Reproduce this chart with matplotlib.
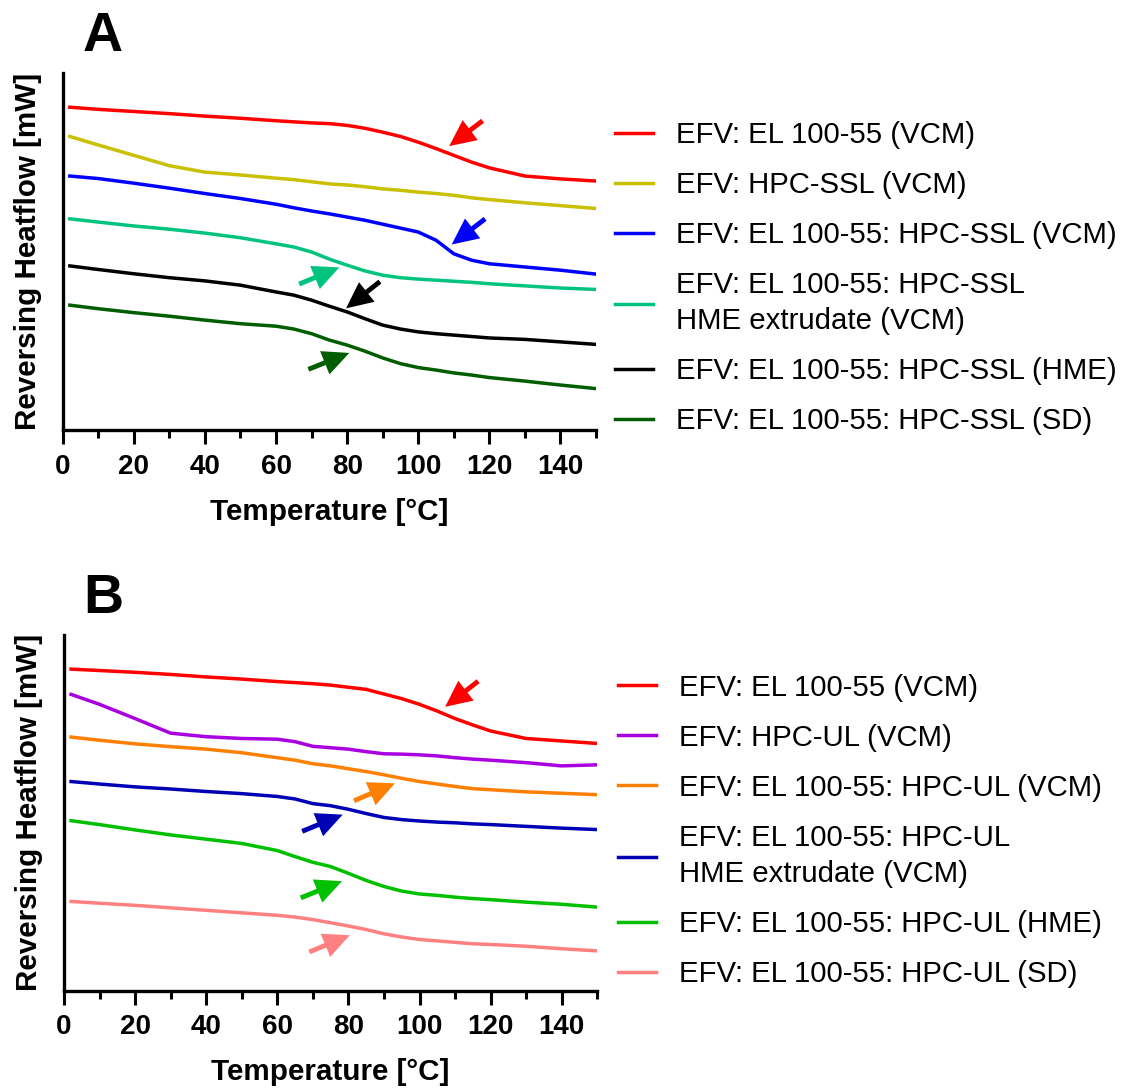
"""
Reversing heat flow (MDSC) traces for EFV formulations.
Panel A: HPC-SSL blends, panel B: HPC-UL blends. Tg steps marked with arrows.
"""

import matplotlib
matplotlib.use("Agg")
import matplotlib.pyplot as plt
from matplotlib.ticker import MultipleLocator

plt.rcParams["font.family"] = ["Liberation Sans", "DejaVu Sans"]

# ── Data (heat flow in arbitrary offset units, traces stacked) ───────────────

TEMP = [2, 10, 20, 30, 40, 50, 60, 65, 70, 75, 80, 85, 90, 95, 100, 105,
        110, 115, 120, 130, 140, 150]

# Panel A
A_LABELS = [
    "EFV: EL 100-55 (VCM)",
    "EFV: HPC-SSL (VCM)",
    "EFV: EL 100-55: HPC-SSL (VCM)",
    "EFV: EL 100-55: HPC-SSL\nHME extrudate (VCM)",
    "EFV: EL 100-55: HPC-SSL (HME)",
    "EFV: EL 100-55: HPC-SSL (SD)",
]
A_EL_VCM = [90.5, 89.9, 89.3, 88.7, 88.0, 87.4, 86.7, 86.4, 86.1, 85.9, 85.4,
            84.6, 83.5, 82.3, 80.7, 78.9, 77.0, 75.1, 73.5, 71.2, 70.4, 69.8]
A_SSL_VCM = [82.3, 79.9, 77.0, 74.1, 72.3, 71.5, 70.6, 70.2, 69.6, 69.0, 68.7,
             68.2, 67.6, 67.2, 66.7, 66.3, 65.8, 65.1, 64.6, 63.7, 62.9, 62.1]
A_BLEND_VCM = [71.2, 70.5, 69.2, 67.8, 66.3, 64.9, 63.3, 62.3, 61.4, 60.6, 59.7,
               58.8, 57.7, 56.6, 55.5, 53.2, 49.4, 47.6, 46.6, 45.7, 44.8, 43.7]
A_EXTR_VCM = [59.2, 58.3, 57.2, 56.3, 55.2, 53.9, 52.2, 51.3, 49.9, 47.9, 46.2,
              44.6, 43.4, 42.7, 42.3, 42.0, 41.7, 41.4, 41.0, 40.4, 39.8, 39.4]
A_HME = [46.0, 45.0, 43.8, 42.7, 41.8, 40.6, 38.7, 37.8, 36.4, 34.7, 33.1,
         31.2, 29.4, 28.3, 27.5, 27.0, 26.6, 26.2, 25.8, 25.4, 24.7, 24.0]
A_SD = [35.0, 34.0, 32.9, 31.9, 30.8, 29.8, 29.1, 28.3, 27.0, 25.2, 23.8,
        22.1, 20.2, 18.6, 17.5, 16.8, 16.0, 15.4, 14.7, 13.7, 12.6, 11.6]

# arrow (tail T, tail y, tip T, tip y) per trace, pointing at the Tg step
A_ARROWS = [
    (118.1, 86.7, 108.7, 79.6),
    None,
    (118.8, 59.2, 109.4, 52.0),
    (66.5, 40.9, 77.8, 45.6),
    (89.2, 41.6, 79.7, 34.1),
    (69.1, 17.0, 80.6, 21.6),
]

# Panel B
B_LABELS = [
    "EFV: EL 100-55 (VCM)",
    "EFV: HPC-UL (VCM)",
    "EFV: EL 100-55: HPC-UL (VCM)",
    "EFV: EL 100-55: HPC-UL\nHME extrudate (VCM)",
    "EFV: EL 100-55: HPC-UL (HME)",
    "EFV: EL 100-55: HPC-UL (SD)",
]
B_EL_VCM = [90.4, 90.0, 89.5, 88.9, 88.2, 87.6, 86.9, 86.6, 86.3, 85.9, 85.3,
            84.7, 83.4, 82.1, 80.5, 78.6, 76.5, 74.7, 73.0, 70.9, 70.2, 69.5]
B_UL_VCM = [83.3, 80.5, 76.5, 72.4, 71.4, 70.9, 70.7, 70.0, 68.7, 68.3, 67.9,
            67.2, 66.6, 66.5, 66.3, 66.0, 65.5, 65.1, 64.8, 64.1, 63.2, 63.5]
B_BLEND_VCM = [71.3, 70.4, 69.4, 68.6, 67.9, 66.9, 65.5, 64.8, 63.8, 63.2, 62.4,
               61.6, 60.7, 59.7, 58.8, 58.1, 57.4, 56.8, 56.5, 55.9, 55.5, 55.1]
B_EXTR_VCM = [58.8, 58.1, 57.3, 56.7, 56.0, 55.4, 54.6, 53.9, 52.6, 52.0, 51.0,
              49.8, 48.7, 48.1, 47.7, 47.4, 47.2, 46.9, 46.7, 46.2, 45.7, 45.3]
B_HME = [47.8, 46.7, 45.2, 43.8, 42.6, 41.4, 39.4, 37.7, 36.1, 34.9, 33.0,
         31.0, 29.3, 28.0, 27.2, 26.8, 26.3, 25.9, 25.6, 24.9, 24.3, 23.5]
B_SD = [25.1, 24.6, 24.0, 23.3, 22.6, 21.9, 21.2, 20.7, 20.0, 19.1, 18.2,
        17.2, 16.0, 15.1, 14.4, 14.0, 13.6, 13.2, 13.0, 12.5, 11.8, 11.2]

B_ARROWS = [
    (116.5, 87.0, 107.2, 79.8),
    None,
    (81.6, 53.4, 93.1, 58.3),
    (67.0, 44.8, 78.4, 49.5),
    (66.6, 26.1, 78.2, 30.8),
    (69.0, 10.9, 80.4, 15.6),
]

A_COLORS = ["#ff0000", "#c8c000", "#0000ff", "#00c47e", "#000000", "#005e00"]
B_COLORS = ["#ff0000", "#a800e0", "#ff8000", "#0000b4", "#00c000", "#ff8080"]

LINE_W = 2.5
AXIS_W = 2.4
LABEL_SIZE = 21.3
TICK_SIZE = 20
LEGEND_SIZE = 21.2


# ── Styling helpers ───────────────────────────────────────────────────────────

def _style_ax(ax):
    for side in ("top", "right"):
        ax.spines[side].set_visible(False)
    for side in ("left", "bottom"):
        ax.spines[side].set_linewidth(AXIS_W)
    ax.set_xlim(0, 150)
    ax.set_ylim(0, 100)
    ax.set_yticks([])
    ax.xaxis.set_major_locator(MultipleLocator(20))
    ax.xaxis.set_minor_locator(MultipleLocator(10))
    ax.set_xticks(range(0, 141, 20))
    ax.tick_params(axis="x", which="major", length=10, width=2.2,
                   pad=7, labelsize=TICK_SIZE)
    ax.tick_params(axis="x", which="minor", length=5.5, width=2.2)
    plt.setp(ax.get_xticklabels(), fontweight="bold")
    ax.set_xlabel("Temperature [°C]", fontsize=LABEL_SIZE, fontweight="bold",
                  labelpad=13)
    ax.set_ylabel("Reversing Heatflow [mW]", fontsize=LABEL_SIZE,
                  fontweight="bold", labelpad=15)


# ── Panel rendering ───────────────────────────────────────────────────────────

def draw_panel(fig, rect, letter, series, labels, colors, arrows, legend_xy):
    ax = fig.add_axes(rect)
    _style_ax(ax)

    for y, lab, c in zip(series, labels, colors):
        ax.plot(TEMP, y, color=c, lw=LINE_W, label=lab)

    for arr, c in zip(arrows, colors):
        if arr is None:
            continue
        t0, y0, t1, y1 = arr
        ax.annotate("", xy=(t1, y1), xytext=(t0, y0),
                    arrowprops=dict(width=3.5, headwidth=18, headlength=19,
                                    shrink=0, facecolor=c, edgecolor=c, lw=0))

    leg = ax.legend(loc="center left", bbox_to_anchor=legend_xy,
                    bbox_transform=fig.transFigure, frameon=False,
                    borderpad=0, borderaxespad=0, fontsize=LEGEND_SIZE,
                    handlelength=1.29, handletextpad=0.76, labelspacing=0.75)
    for t in leg.get_texts():
        t.set_linespacing(1.36)

    fig.text(rect[0] + 0.035, rect[1] + rect[3] + 0.033, letter,
             fontsize=40, fontweight="bold", ha="center", va="center")
    return ax


fig = plt.figure(figsize=(11.28, 10.88), dpi=100, facecolor="white")

draw_panel(fig, [0.0556, 0.6048, 0.4728, 0.3278], "A",
           [A_EL_VCM, A_SSL_VCM, A_BLEND_VCM, A_EXTR_VCM, A_HME, A_SD],
           A_LABELS, A_COLORS, A_ARROWS, (0.5455, 0.7445))

draw_panel(fig, [0.0567, 0.0894, 0.4728, 0.3270], "B",
           [B_EL_VCM, B_UL_VCM, B_BLEND_VCM, B_EXTR_VCM, B_HME, B_SD],
           B_LABELS, B_COLORS, B_ARROWS, (0.5483, 0.2364))

fig.savefig("out.png", dpi=100, facecolor="white")
